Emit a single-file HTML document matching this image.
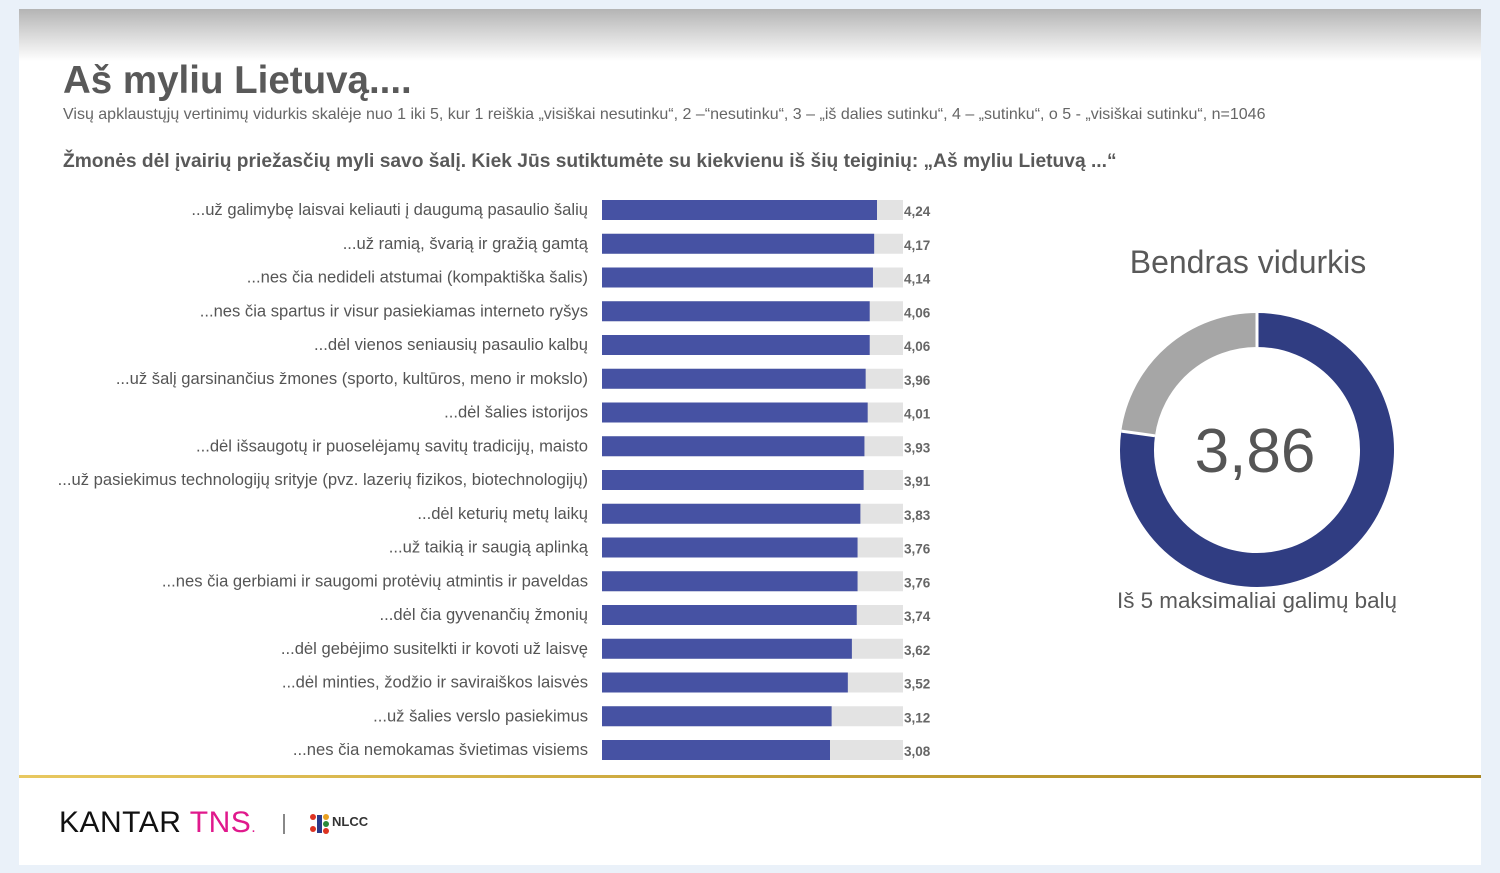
<!DOCTYPE html>
<html><head><meta charset="utf-8">
<style>
body{margin:0;width:1500px;height:873px;background:#eaf1f9;font-family:"Liberation Sans",sans-serif;overflow:hidden;position:relative}
#slide{position:absolute;left:19px;top:9px;width:1462px;height:856px;background:#fff}
#hdr{position:absolute;left:0;top:0;width:1462px;height:52px;background:linear-gradient(#b4b4b4,#fff)}
.t{position:absolute;white-space:nowrap}
</style></head><body>
<div id="slide">
<div id="hdr"></div>
<div class="t" style="left:44px;top:50px;font-size:38.5px;font-weight:bold;color:#595959">Aš myliu Lietuvą....</div>
<div class="t" style="left:44px;top:97px;font-size:16px;color:#666">Visų apklaustųjų vertinimų vidurkis skalėje nuo 1 iki 5, kur 1 reiškia „visiškai nesutinku“, 2 –“nesutinku“, 3 – „iš dalies sutinku“, 4 – „sutinku“, o 5 - „visiškai sutinku“, n=1046</div>
<div class="t" style="left:44px;top:142px;font-size:19.2px;font-weight:bold;color:#595959">Žmonės dėl įvairių priežasčių myli savo šalį. Kiek Jūs sutiktumėte su kiekvienu iš šių teiginių: „Aš myliu Lietuvą ...“</div>
<div style="position:absolute;left:0;top:766px;width:1462px;height:3px;background:linear-gradient(90deg,#e8c860,#c9a53a,#a88520)"></div>
<div class="t" style="left:40px;top:797px;font-size:30px;color:#111;letter-spacing:0.5px">KANTAR <span style="color:#e0198c">TNS<span style="font-size:16px">.</span></span></div>
<div style="position:absolute;left:264px;top:805px;width:2px;height:20px;background:#888"></div>
<div style="position:absolute;left:290px;top:803px;width:70px;height:26px">
<svg width="70" height="26"><circle cx="4" cy="5" r="3" fill="#d32"/><circle cx="4" cy="17" r="3" fill="#d32"/><rect x="8" y="3" width="5" height="18" fill="#2a3a8a"/><circle cx="17" cy="5" r="3" fill="#e8a020"/><circle cx="17" cy="12" r="3" fill="#2a8a3a"/><circle cx="17" cy="19" r="3" fill="#d32"/><text x="23" y="14" font-size="13" font-weight="bold" fill="#333" font-family="Liberation Sans">NLCC</text></svg></div>
</div>
<svg id="chart" width="1500" height="873" style="position:absolute;left:0;top:0"></svg>
<script>
const categories=["...už galimybę laisvai keliauti į daugumą pasaulio šalių","...už ramią, švarią ir gražią gamtą","...nes čia nedideli atstumai (kompaktiška šalis)","...nes čia spartus ir visur pasiekiamas interneto ryšys","...dėl vienos seniausių pasaulio kalbų","...už šalį garsinančius žmones (sporto, kultūros, meno ir mokslo)","...dėl šalies istorijos","...dėl išsaugotų ir puoselėjamų savitų tradicijų, maisto","...už pasiekimus technologijų srityje (pvz. lazerių fizikos, biotechnologijų)","...dėl keturių metų laikų","...už taikią ir saugią aplinką","...nes čia gerbiami ir saugomi protėvių atmintis ir paveldas","...dėl čia gyvenančių žmonių","...dėl gebėjimo susitelkti ir kovoti už laisvę","...dėl minties, žodžio ir saviraiškos laisvės","...už šalies verslo pasiekimus","...nes čia nemokamas švietimas visiems"];
const values=[4.24,4.17,4.14,4.06,4.06,3.96,4.01,3.93,3.91,3.83,3.76,3.76,3.74,3.62,3.52,3.12,3.08];
const overall=[3.86];
const maxScore=[5];
const NS="http://www.w3.org/2000/svg";
const svg=document.getElementById('chart');
function x(v){return 830+(v-3.08)*(877-830)/(4.24-3.08);}
function y(i){return 210+i*33.75;}
function mk(t,a){const e=document.createElementNS(NS,t);for(const k in a)e.setAttribute(k,a[k]);svg.appendChild(e);return e;}
values.forEach((v,i)=>{
  const bg=mk('rect',{x:602,y:y(i)-10,width:301,height:20,fill:'#e3e3e3'});
  
  
  const b=mk('rect',{x:602,y:y(i)-10,width:x(v)-602,height:20,fill:'#4652a3'});
  
  
  const l=mk('text',{x:588,y:y(i)+5,'text-anchor':'end','font-size':16.6,fill:'#555','font-family':'Liberation Sans'});
  l.textContent=categories[i];
  
  
  const vl=mk('text',{x:904,y:y(i)+6,'font-size':13.5,'font-weight':'bold',fill:'#666','font-family':'Liberation Sans'});
  vl.textContent=v.toFixed(2).replace('.',',');
  
  
});
const cx=1257,cy=450,r=120,sw=34;
const frac=overall[0]/maxScore[0];
function pt(a){return [cx+r*Math.sin(a),cy-r*Math.cos(a)];}
const a1=frac*2*Math.PI;
const p0=pt(0),p1=pt(a1);
const g=mk('path',{d:`M${p1[0]},${p1[1]} A${r},${r} 0 ${frac<0.5?1:0} 1 ${p0[0]},${p0[1]}`,fill:'none',stroke:'#a6a6a6','stroke-width':sw});


const n=mk('path',{d:`M${p0[0]},${p0[1]} A${r},${r} 0 ${frac>0.5?1:0} 1 ${p1[0]},${p1[1]}`,fill:'none',stroke:'#303d82','stroke-width':sw});


[0,a1].forEach(a=>{const i1=[cx+(r-17)*Math.sin(a),cy-(r-17)*Math.cos(a)],o1=[cx+(r+17)*Math.sin(a),cy-(r+17)*Math.cos(a)];mk('line',{x1:i1[0],y1:i1[1],x2:o1[0],y2:o1[1],stroke:'#fff','stroke-width':3});});
const dt=mk('text',{x:1255,y:472,'text-anchor':'middle','font-size':62,fill:'#555','font-family':'Liberation Sans'});
dt.textContent=overall[0].toFixed(2).replace('.',',');


const tt=mk('text',{x:1248,y:273,'text-anchor':'middle','font-size':32,fill:'#595959','font-family':'Liberation Sans'});
tt.textContent='Bendras vidurkis';


const st=mk('text',{x:1257,y:608,'text-anchor':'middle','font-size':22.4,fill:'#595959','font-family':'Liberation Sans'});
st.textContent='Iš 5 maksimaliai galimų balų';


</script>
</body></html>
